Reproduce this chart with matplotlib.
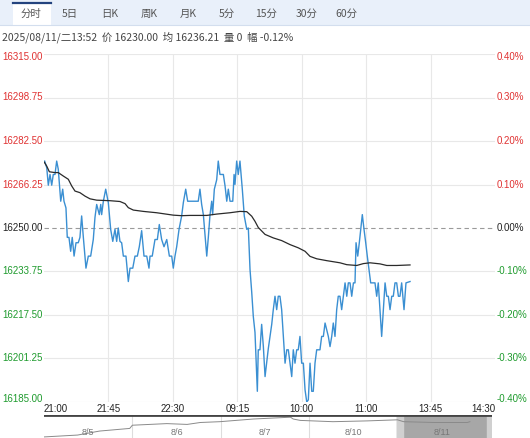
import matplotlib
matplotlib.use("Agg")
import matplotlib.pyplot as plt
import matplotlib.transforms as mtrans
from matplotlib.patches import Rectangle

OUT_FILE = "out.png"

# --- data -------------------------------------------------------------------
BASE = 16250.0
PCT_LEVELS = [0.40, 0.30, 0.20, 0.10, 0.00, -0.10, -0.20, -0.30, -0.40]
TIME_LABELS = ["21:00", "21:45", "22:30", "09:15", "10:00", "11:00", "13:45", "14:30"]
SESSION_MINUTES = 345

TABS = ["分时", "5日", "日K", "周K", "月K", "5分", "15分", "30分", "60分"]
INFO = "2025/08/11/二13:52  价 16230.00  均 16236.21  量 0  幅 -0.12%"

# minute index since 21:00 and price
price_min = [0.5, 2.1, 3.3, 4.6, 5.9, 7.1, 8.4, 9.7, 10.9, 12.8, 14.3, 15.3, 16.8, 17.8,
             19.1, 20.4, 21.6, 23.0, 24.5, 26.2, 27.5, 28.8, 30.1, 32.1, 33.9, 35.7, 37.7,
             39.0, 40.3, 42.3, 43.4, 44.1, 45.4, 47.2, 49.2, 51.0, 52.6, 54.3, 55.6, 56.8,
             58.1, 59.4, 60.7, 62.7, 64.5, 65.8, 67.9, 69.6, 71.4, 72.9, 74.7, 76.5, 78.6,
             80.3, 81.1, 82.8, 84.9, 86.7, 88.2, 90.0, 91.8, 93.9, 95.9, 97.7, 98.9, 100.2,
             101.5, 103.3, 105.3, 106.6, 108.4, 109.9, 118.0, 119.3, 120.6, 121.9, 123.2,
             124.5, 125.7, 127.0, 128.3, 129.0, 130.3, 132.1, 133.3, 134.6, 137.2, 138.5,
             139.8, 141.0, 142.3, 144.4, 145.4, 146.1, 147.4, 148.6, 149.9, 151.7, 153.2,
             155.1, 156.3, 157.6, 158.9, 160.1, 161.4, 163.2, 163.9, 165.2, 166.5, 167.8,
             169.1, 170.4, 171.6, 172.9, 174.2, 175.4, 176.7, 178.0, 179.2, 180.5, 181.8,
             183.1, 184.4, 185.7, 186.9, 188.2, 189.5, 190.7, 192.0, 193.3, 194.5, 195.8,
             197.1, 198.4, 199.7, 201.0, 202.2, 203.5, 204.8, 206.0, 207.3, 208.6, 211.1,
             212.4, 213.7, 215.0, 217.5, 218.8, 220.1, 221.3, 222.6, 223.9, 225.1, 226.4,
             227.7, 229.0, 230.3, 231.6, 232.8, 234.1, 235.4, 236.7, 237.9, 238.7, 240.0,
             241.2, 242.3, 243.5, 244.8, 246.1, 247.3, 248.6, 249.9, 253.2, 254.5, 255.7,
             257.0, 258.3, 259.6, 260.9, 262.2, 263.4, 264.7, 266.0, 267.2, 268.5, 269.8,
             271.1, 272.3, 273.6, 275.4, 276.9, 280.0]
price_val = [16275, 16272.5, 16266, 16270, 16266, 16270, 16270, 16275, 16272, 16260, 16264.5,
             16260, 16257.5, 16246.5, 16246.5, 16241.3, 16246.5, 16239.5, 16244.5, 16244.5,
             16246.5, 16254.5, 16246.5, 16235, 16239.5, 16239.5, 16245.7, 16254, 16258.8,
             16255, 16258.8, 16255, 16260, 16264.5, 16259.5, 16249.5, 16245, 16249.5, 16245,
             16250, 16245, 16244.5, 16239.5, 16239.5, 16230, 16235, 16235, 16239.5, 16239.5,
             16243, 16249, 16239.5, 16239.5, 16235, 16239.5, 16239.5, 16245.7, 16245.7,
             16251.3, 16245.7, 16243, 16245.7, 16239.5, 16239.5, 16235, 16239.5, 16243,
             16249.5, 16254.5, 16259.5, 16264.5, 16260, 16260, 16264.5, 16258.8, 16255,
             16247, 16239.5, 16246.5, 16255, 16260, 16255, 16264.5, 16268, 16275, 16270,
             16270, 16265.7, 16260, 16264.5, 16260, 16260, 16270, 16266.3, 16275, 16270,
             16275, 16264.5, 16254.5, 16249.5, 16250, 16234.5, 16226, 16217, 16211, 16189,
             16204.5, 16204.5, 16214, 16205.7, 16194.5, 16200, 16205, 16209.5, 16214,
             16219.5, 16224.5, 16219.5, 16224.5, 16224.5, 16219.5, 16209.5, 16199.5,
             16204.5, 16204.5, 16199.5, 16194.5, 16204.5, 16199.5, 16204.5, 16204.5,
             16209.5, 16199.5, 16199.5, 16189.5, 16185, 16185.8, 16199.5, 16189, 16189,
             16199.5, 16204.5, 16204.5, 16209.5, 16209.5, 16214.5, 16209.5, 16205.7,
             16209.5, 16214.5, 16209.5, 16219.5, 16224.5, 16224.5, 16219.5, 16224.5,
             16229.5, 16224.5, 16229.5, 16229.5, 16224.5, 16229.5, 16229.5, 16244.5,
             16239.5, 16244.5, 16249.5, 16255, 16249.5, 16244.5, 16239.5, 16234.5, 16229.5,
             16229.5, 16224.5, 16229.5, 16219.5, 16209.5, 16219.5, 16229.5, 16224.5,
             16224.5, 16219.5, 16224.5, 16224.5, 16229.5, 16229.5, 16224.5, 16224.5,
             16229.5, 16219.5, 16229.5, 16230]

avg_min = [0.2, 2.1, 4.1, 8.4, 10.9, 14.8, 18.6, 21.2, 23.7, 27.5, 31.4, 35.2, 40.3, 50.5,
           58.1, 62.0, 64.5, 68.3, 76.0, 86.2, 98.9, 105.3, 111.7, 124.5, 132.1, 142.3,
           149.9, 155.1, 158.9, 161.4, 163.9, 169.1, 175.4, 181.8, 188.2, 194.5, 199.7,
           203.5, 208.6, 216.3, 226.4, 231.6, 239.2, 244.3, 249.4, 257.0, 262.2, 269.8, 280.0]
avg_val = [16274.6, 16273.1, 16271.0, 16270.7, 16270.7, 16269.4, 16268.2, 16265.7, 16263.8,
           16263.2, 16261.9, 16260.9, 16260.4, 16260.2, 16259.9, 16259.1, 16257.6, 16256.7,
           16256.2, 16255.7, 16254.8, 16254.6, 16254.7, 16254.7, 16255.2, 16255.7, 16256.2,
           16256.1, 16254.4, 16252.5, 16250.2, 16247.6, 16246.3, 16245.3, 16243.8, 16242.6,
           16241.3, 16239.4, 16238.5, 16237.8, 16237.0, 16236.3, 16236.0, 16236.7, 16237.0,
           16236.6, 16236.0, 16236.0, 16236.2]

# navigator: 5 trading days
NAV_DAYS = ["8/5", "8/6", "8/7", "8/10", "8/11"]
nav_x = [0, 0.38, 0.63, 0.97, 1.0, 1.39, 1.62, 1.77, 1.99, 2.37, 2.79, 2.82, 2.9, 3.27,
         3.66, 4.0, 4.07, 4.41, 4.79, 4.82]
nav_val = [15980, 16015, 16090, 16139, 16199, 16229, 16214, 16250, 16265, 16315, 16349,
           16315, 16289, 16265, 16280, 16300, 16265, 16250, 16250, 16265]

RED = "#e03232"
GREEN = "#1f9b2e"
BLUE = "#3a8fd2"
CJK = ["Noto Sans CJK SC", "DejaVu Sans"]
NUM = ["Liberation Sans", "DejaVu Sans"]


def level_color(p):
    if p > 0:
        return RED
    if p < 0:
        return GREEN
    return "#222222"


def main():
    W, H = 530, 438
    fig = plt.figure(figsize=(W / 100, H / 100), dpi=100)
    fig.patch.set_facecolor("white")

    def box(l, t, r, b):
        return [l / W, 1 - b / H, (r - l) / W, (b - t) / H]

    # background canvas in pixel coords for the header bits
    bg = fig.add_axes([0, 0, 1, 1], zorder=0)
    bg.set_xlim(0, W)
    bg.set_ylim(H, 0)
    bg.axis("off")

    # tab bar
    bg.add_patch(Rectangle((0, 0), W, 25, facecolor="#e9f0fa", edgecolor="none"))
    bg.plot([0, W], [25, 25], color="#d3deee", lw=0.8)
    bg.add_patch(Rectangle((13, 2), 38, 23.5, facecolor="white", edgecolor="none"))
    bg.plot([13, 51], [2.5, 2.5], color="#23437e", lw=1.6)
    tab_x = [31, 70, 110, 149, 188, 227, 266, 307, 346]
    for x, t in zip(tab_x, TABS):
        bg.text(x, 14, t, ha="center", va="center", fontsize=7.5, color="#555555",
                family=CJK)

    bg.text(2, 37, INFO, ha="left", va="center", fontsize=7.5, color="#444444", family=CJK)

    # main chart
    ax = fig.add_axes(box(44, 54, 495, 402), zorder=1)
    ax.patch.set_alpha(0)
    ymin = BASE * (1 + PCT_LEVELS[-1] / 100)
    ymax = BASE * (1 + PCT_LEVELS[0] / 100)
    ax.set_xlim(0, SESSION_MINUTES)
    ax.set_ylim(ymin, ymax)
    for s in ax.spines.values():
        s.set_visible(False)
    ax.set_xticks([])
    ax.set_yticks([])

    levels = [BASE * (1 + p / 100) for p in PCT_LEVELS]
    for lv, p in zip(levels, PCT_LEVELS):
        if p != 0:
            ax.axhline(lv, color="#e8e8e8", lw=0.8, zorder=0)
    step = SESSION_MINUTES / (len(TIME_LABELS) - 1)
    tick_pos = [i * step for i in range(len(TIME_LABELS))]
    for xp in tick_pos[1:-1]:
        ax.axvline(xp, color="#e8e8e8", lw=0.8, zorder=0)
    ax.axhline(BASE, color="#9a9a9a", lw=0.8, ls=(0, (4, 3)), zorder=1)

    ax.plot(price_min, price_val, color=BLUE, lw=1.0, zorder=3)
    ax.plot(avg_min, avg_val, color="#2a2a2a", lw=0.9, zorder=4)

    # y labels on both sides
    left_tr = mtrans.blended_transform_factory(fig.transFigure, ax.transData)
    for i, (lv, p) in enumerate(zip(levels, PCT_LEVELS)):
        off = 0
        if i == 0:
            off = -3.0
        elif i == len(levels) - 1:
            off = 3.0
        yv = lv + off * (ymax - ymin) / 348
        c = level_color(p)
        fig.text(2 / W, yv, f"{lv:.2f}", transform=left_tr, ha="left", va="center",
                 fontsize=7, color=c, family=NUM)
        fig.text(497 / W, yv, f"{p:.2f}%", transform=left_tr, ha="left", va="center",
                 fontsize=7, color=c, family=NUM)

    # x labels
    xl_tr = mtrans.blended_transform_factory(ax.transData, fig.transFigure)
    for i, (xp, lab) in enumerate(zip(tick_pos, TIME_LABELS)):
        ha = "center"
        if i == 0:
            ha = "left"
        elif i == len(TIME_LABELS) - 1:
            ha = "right"
        fig.text(xp, 1 - 409 / H, lab, transform=xl_tr, ha=ha, va="center",
                 fontsize=7, color="#222222", family=NUM)

    # navigator strip
    nav = fig.add_axes(box(44, 415, 492, 438), zorder=2)
    nav.patch.set_alpha(0)
    nav.set_xlim(0, 5.07)
    nav.set_ylim(15960, 16390)
    nav.set_xticks([])
    nav.set_yticks([])
    for s in nav.spines.values():
        s.set_visible(False)
    nav.axvspan(4.0, 5.07, color="#a7a7a7", zorder=0)
    nav.axvspan(4.0, 4.06, color="#d0d0d0", zorder=1)
    nav.axvspan(5.01, 5.07, color="#d0d0d0", zorder=1)
    for d in range(1, 4):
        nav.axvline(d, color="#dddddd", lw=0.8, zorder=0)
    nav.plot(nav_x, nav_val, color="#8a8a8a", lw=0.7, zorder=2)
    nav.axhline(16385, color="#444444", lw=2.0, zorder=3)
    for d, lab in enumerate(NAV_DAYS):
        nav.text(d + 0.5, 16060, lab, ha="center", va="center", fontsize=6.5,
                 color="#777777", family=NUM)

    fig.savefig(OUT_FILE, dpi=100)


if __name__ == "__main__":
    main()
